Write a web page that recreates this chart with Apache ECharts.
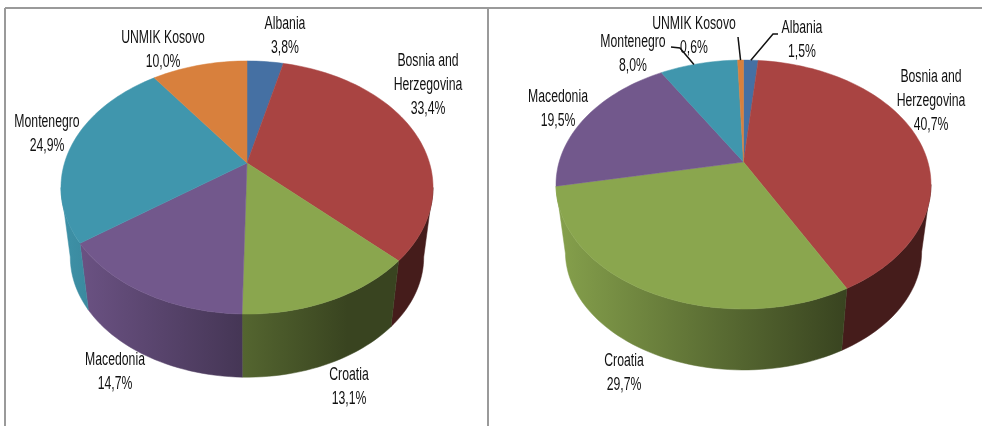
<!DOCTYPE html>
<html>
<head>
<meta charset="utf-8">
<style>
  html, body { margin: 0; padding: 0; background: #fff; }
  #chart { width: 982px; height: 426px; }
</style>
<script src="https://cdn.jsdelivr.net/npm/echarts@6/dist/echarts.min.js"></script>
</head>
<body>
<div id="chart"></div>
<script>
const categories = ['Albania', 'Bosnia and\nHerzegovina', 'Croatia', 'Macedonia', 'Montenegro', 'UNMIK Kosovo']
const leftShares = [3.8, 33.4, 13.1, 14.7, 24.9, 10.0]
const rightShares = [1.5, 40.7, 29.7, 19.5, 8.0, 0.6]
const colors = ['#4570a3', '#a94442', '#8aa64e', '#72588c', '#4096ad', '#d8803d']

// label centres, same order as categories
const leftLabelAt = [[285, 36], [428, 85], [349, 387], [115, 372], [47, 134], [163, 50]]
const rightLabelAt = [[802, 40], [931, 101], [624, 373], [558, 109], [633, 54], [694, 36]]

// k is the perspective term, it pushes the pivot above the middle of the ellipse
const leftPie = { cx: 247, cy: 163, a: 182.5, b: 121.8, k: -0.1937, bottomCy: 233.7, shares: leftShares, labelAt: leftLabelAt, leaders: [] }
const rightPie = {
  cx: 743.5, cy: 162, a: 184.4, b: 120.4, k: -0.181, bottomCy: 230.3, shares: rightShares, labelAt: rightLabelAt,
  leaders: [
    { slice: 0, bend: [[778, 34], [773, 34]], shift: 0 },
    { slice: 4, bend: [[671, 47], [680, 48]], shift: -0.5 },
    { slice: 5, bend: [[738, 37]], shift: 0 }
  ]
}
const bottomScale = 0.95

function rim(pie, share) {
  const t = share / 100 * Math.PI * 2
  const x = Math.sin(t)
  const y = -Math.cos(t)
  const d = 1 + pie.k * y
  return [pie.a * x / d, pie.b * y / d]
}

function topPoint(pie, share) {
  const p = rim(pie, share)
  return [pie.cx + p[0], pie.cy + p[1]]
}

function bottomPoint(pie, share) {
  const p = rim(pie, share)
  return [pie.cx + p[0] * bottomScale, pie.bottomCy + p[1] * bottomScale]
}

function arcShares(start, end) {
  const steps = Math.max(2, Math.ceil((end - start) * 2))
  const list = []
  for (let i = 0; i <= steps; i++) {
    list.push(start + (end - start) * i / steps)
  }
  return list
}

// [start, end, category index], normalised because the shares do not always add up to 100
function sliceData(shares) {
  const total = shares.reduce((a, b) => a + b, 0)
  let sum = 0
  return shares.map((v, i) => {
    const start = sum / total * 100
    sum += v
    return [start, sum / total * 100, i]
  })
}

function shade(hex, f) {
  const c = echarts.color.parse(hex)
  return 'rgb(' + Math.round(c[0] * f) + ',' + Math.round(c[1] * f) + ',' + Math.round(c[2] * f) + ')'
}

function sideFill(pie, hex) {
  const half = pie.a * 1.02
  return new echarts.graphic.LinearGradient(pie.cx - half, 0, pie.cx + half, 0, [
    { offset: 0, color: shade(hex, 0.97) },
    { offset: 0.5, color: shade(hex, 0.6) },
    { offset: 0.77, color: shade(hex, 0.41) },
    { offset: 1, color: shade(hex, 0.41) }
  ], true)
}

function sideSeries(pie) {
  // only the front of the wall shows, between the two widest points of the rim
  const frontStart = Math.acos(pie.k) / (Math.PI * 2) * 100
  const frontEnd = 100 - frontStart
  return {
    type: 'custom',
    coordinateSystem: 'none',
    silent: true,
    z: 1,
    data: sliceData(pie.shares),
    renderItem(params, api) {
      const start = Math.max(api.value(0), frontStart)
      const end = Math.min(api.value(1), frontEnd)
      // a sliver at the edge of the wall would only show as a stray line
      if (end - start < 0.5) {
        return null
      }
      const shares = arcShares(start, end)
      const top = shares.map(s => topPoint(pie, s))
      const bottom = shares.map(s => bottomPoint(pie, s)).reverse()
      const fill = sideFill(pie, colors[api.value(2)])
      return {
        type: 'polygon',
        shape: { points: top.concat(bottom) },
        style: { fill: fill, stroke: fill, lineWidth: 0.5 }
      }
    }
  }
}

function topSeries(pie) {
  return {
    type: 'custom',
    coordinateSystem: 'none',
    silent: true,
    z: 2,
    data: sliceData(pie.shares),
    renderItem(params, api) {
      const points = arcShares(api.value(0), api.value(1)).map(s => topPoint(pie, s))
      points.push([pie.cx, pie.cy])
      const color = colors[api.value(2)]
      return {
        type: 'polygon',
        shape: { points: points },
        style: { fill: color, stroke: color, lineWidth: 0.5 }
      }
    }
  }
}

function labelSeries(pie) {
  return {
    type: 'custom',
    coordinateSystem: 'none',
    silent: true,
    z: 4,
    data: pie.shares.map((v, i) => [v, i]),
    renderItem(params, api) {
      const i = api.value(1)
      return {
        type: 'text',
        x: pie.labelAt[i][0],
        y: pie.labelAt[i][1],
        scaleX: 0.68, // the source font is a squeezed Calibri
        style: {
          text: categories[i] + '\n' + api.value(0).toFixed(1).replace('.', ',') + '%',
          fontFamily: '"Liberation Sans", sans-serif',
          fontSize: 18,
          lineHeight: 24,
          fill: '#111',
          align: 'center',
          verticalAlign: 'middle'
        }
      }
    }
  }
}

function leaderSeries(pie) {
  const slices = sliceData(pie.shares)
  return {
    type: 'custom',
    coordinateSystem: 'none',
    silent: true,
    z: 3,
    data: pie.leaders.map((l, i) => [i]),
    renderItem(params, api) {
      const l = pie.leaders[api.value(0)]
      const s = slices[l.slice]
      const end = topPoint(pie, (s[0] + s[1]) / 2 + l.shift)
      return {
        type: 'polyline',
        shape: { points: l.bend.concat([end]) },
        style: { fill: null, stroke: '#111', lineWidth: 1.5 }
      }
    }
  }
}

const framePaths = [
  [5, 8, 982, 8],
  [5, 8, 5, 426],
  [488, 8, 488, 426]
]

const chart = echarts.init(document.getElementById('chart'), null, { renderer: 'canvas' })
chart.setOption({
  animation: false,
  backgroundColor: '#fff',
  graphic: framePaths.map(p => ({
    type: 'line',
    shape: { x1: p[0], y1: p[1], x2: p[2], y2: p[3] },
    style: { stroke: '#9a9a9a', lineWidth: 2 },
    silent: true
  })),
  series: [
    sideSeries(leftPie), topSeries(leftPie), labelSeries(leftPie),
    sideSeries(rightPie), topSeries(rightPie), leaderSeries(rightPie), labelSeries(rightPie)
  ]
})
</script>
</body>
</html>
